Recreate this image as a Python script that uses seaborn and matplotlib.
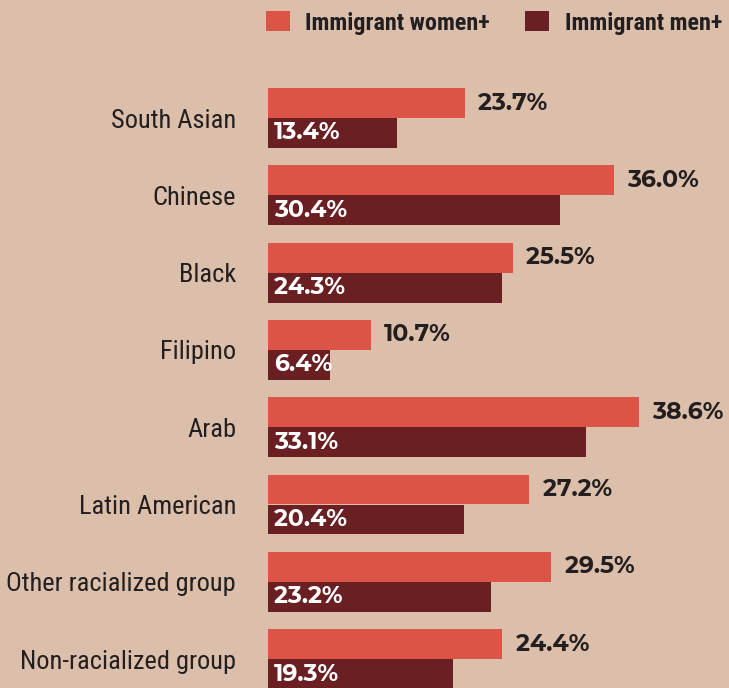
"""
Share of immigrants by racialized group, women+ vs men+ (horizontal grouped bars).
"""

import matplotlib
matplotlib.use("Agg")
import matplotlib.pyplot as plt
import matplotlib.patches as mpatches
from matplotlib import font_manager as fm
import seaborn as sns
import pandas as pd

# Data (bar lengths; labels as printed)
categories = [
    "South Asian", "Chinese", "Black", "Filipino", "Arab",
    "Latin American", "Other racialized group", "Non-racialized group",
]
women_values = [20.5, 36.0, 25.5, 10.7, 38.6, 27.2, 29.5, 24.4]
men_values = [13.4, 30.4, 24.3, 6.4, 33.1, 20.4, 23.2, 19.3]
women_labels = ["23.7%", "36.0%", "25.5%", "10.7%", "38.6%", "27.2%", "29.5%", "24.4%"]
men_labels = ["13.4%", "30.4%", "24.3%", "6.4%", "33.1%", "20.4%", "23.2%", "19.3%"]
series_names = ["Immigrant women+", "Immigrant men+"]

# Style
BG = "#dbbfaa"
WOMEN_COLOR = "#db5446"
MEN_COLOR = "#6a1f22"
TEXT_COLOR = "#231f20"


def pick(candidates, min_weight=0):
    """Return the first installed family (with a face at least min_weight heavy)."""
    for name in candidates:
        for f in fm.fontManager.ttflist:
            if f.name == name and int(f.weight) >= min_weight:
                return [name, "DejaVu Sans"]
    return ["DejaVu Sans"]


NARROW = pick(["Roboto Condensed", "Archivo Narrow", "Fira Sans Condensed",
               "Liberation Sans Narrow"])
VALUE_FONT = pick(["Montserrat", "Montserrat Alternates", "Lato", "Open Sans"],
                  min_weight=700)

sns.set_style("white")

df = pd.DataFrame({
    "category": categories * 2,
    "group": [series_names[0]] * len(categories) + [series_names[1]] * len(categories),
    "value": women_values + men_values,
})

W, H, DPI = 729, 688, 100
fig = plt.figure(figsize=(W / DPI, H / DPI), dpi=DPI, facecolor=BG)

# axes from the bar baseline (x=268px) to the right edge
ax = fig.add_axes([268 / W, 0, 1 - 268 / W, 1])
ax.set_facecolor(BG)

palette = {series_names[0]: WOMEN_COLOR, series_names[1]: MEN_COLOR}
sns.barplot(
    data=df, y="category", x="value", hue="group", orient="h",
    palette=palette, width=0.776, saturation=1, legend=False,
    linewidth=0, ax=ax,
)

ax.set_xlim(0, (W - 268) / 9.61)
ax.set_ylim((H - 118) / 77.3, -118 / 77.3)
ax.set_xlabel("")
ax.set_ylabel("")
ax.set_xticks([])
ax.tick_params(axis="y", length=0, pad=23)
for lbl in ax.get_yticklabels():
    lbl.set_fontfamily(NARROW)
    lbl.set_fontsize(19)
    lbl.set_color(TEXT_COLOR)
sns.despine(ax=ax, left=True, bottom=True)

# value labels
women_bars, men_bars = ax.containers[0], ax.containers[1]
for bar, text in zip(women_bars, women_labels):
    y = bar.get_y() + bar.get_height() / 2
    ax.annotate(text, (bar.get_width(), y), xytext=(9.5, 0),
                textcoords="offset points", va="center", ha="left",
                fontsize=17, fontweight="bold", family=VALUE_FONT,
                color=TEXT_COLOR, annotation_clip=False)
for bar, text in zip(men_bars, men_labels):
    y = bar.get_y() + bar.get_height() / 2
    ax.annotate(text, (0, y), xytext=(4.3, 0),
                textcoords="offset points", va="center", ha="left",
                fontsize=17, fontweight="bold", family=VALUE_FONT,
                color="white", annotation_clip=False)

# legend
handles = [mpatches.Patch(color=WOMEN_COLOR, linewidth=0),
           mpatches.Patch(color=MEN_COLOR, linewidth=0)]
leg = fig.legend(
    handles, series_names, ncol=2, loc="upper left",
    bbox_to_anchor=(266 / W, 1 - 11 / H), frameon=False,
    prop={"family": NARROW, "weight": "bold", "size": 17.4},
    handlelength=1.0, handleheight=0.92, handletextpad=0.63,
    columnspacing=1.45, borderpad=0, borderaxespad=0,
)
for t in leg.get_texts():
    t.set_color(TEXT_COLOR)

fig.savefig("out.png", dpi=DPI, facecolor=BG)
